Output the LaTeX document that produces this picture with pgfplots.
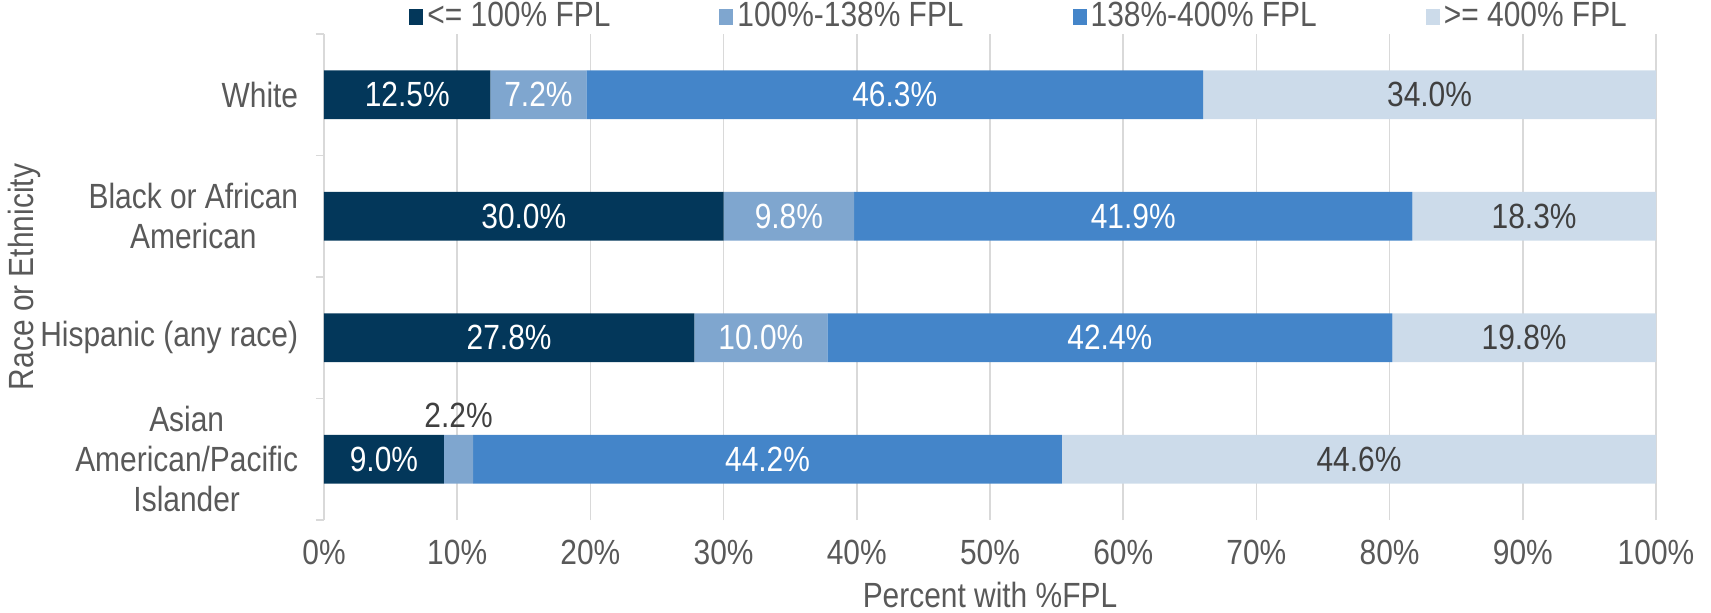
\documentclass[border=0pt]{standalone}
\usepackage{pgfplots}
\pgfplotsset{compat=1.18}
\usepackage{pgfplotstable}
\usepackage{fontspec}
\setmainfont{Liberation Sans}[FakeStretch=0.855]
\definecolor{cA}{HTML}{03375A}
\definecolor{cB}{HTML}{7FA6CF}
\definecolor{cC}{HTML}{4485C9}
\definecolor{cD}{HTML}{CCDBEA}
\definecolor{labgray}{HTML}{404040}
\definecolor{tickgray}{HTML}{595959}
\definecolor{gridgray}{HTML}{D9D9D9}

\pgfplotstableread{
y a b c d
3 12.5 7.2 46.3 34.0
2 30.0 9.8 41.9 18.3
1 27.8 10.0 42.4 19.8
0 9.0 2.2 44.2 44.6
}\data

\newcommand\lab[1]{\pgfmathprintnumber[fixed,fixed zerofill,precision=1]{#1}\%}
\newcommand\labB[1]{\pgfmathfloattofixed{#1}\let\fx\pgfmathresult
  \ifdim\fx pt<5pt \raisebox{32pt}[0pt][0pt]{\textcolor{labgray}{\lab{#1}}}\else\lab{#1}\fi}

\begin{document}
\fontsize{35}{40}\selectfont
\begin{tikzpicture}
\begin{axis}[
  xbar stacked,
  scale only axis,
  width=1332pt, height=486pt,
  xmin=0, xmax=100,
  ymin=-0.5, ymax=3.5,
  bar width=0.4,
  /pgf/number format/assume math mode=true,
  font=\fontsize{35}{40}\selectfont,
  xtick={0,10,...,100},
  xticklabel={\pgfmathprintnumber{\tick}\%},
  xticklabel style={text=tickgray, yshift=-8pt},
  ytick={0,1,2,3},
  yticklabels={{Asian\\American/Pacific\\Islander},{Hispanic (any race)},{Black or African\\American},White},
  yticklabel style={align=center, text=tickgray, xshift=-14pt},
  minor ytick={-0.5,0.5,1.5,2.5,3.5},
  major tick length=0pt,
  minor tick length=8pt,
  tick align=outside,
  xtick style={draw=none},
  minor tick style={gridgray, line width=1.5pt},
  axis y line*=left,
  axis x line*=bottom,
  x axis line style={draw=none},
  y axis line style={gridgray, line width=1.5pt},
  xmajorgrids,
  grid style={gridgray, line width=1.5pt},
  xlabel={Percent with \%FPL},
  ylabel={Race or Ethnicity},
  xlabel style={text=tickgray, yshift=6pt},
  ylabel style={text=tickgray, at={(axis description cs:-0.225,0.5)}, anchor=center, rotate=0},
  legend columns=4,
  legend style={at={(0.064,1)}, anchor=west, yshift=17pt, draw=none, fill=none, inner sep=0pt,
    text=tickgray, font=\fontsize{35}{40}\selectfont,
    /tikz/every even column/.append style={column sep=107pt},
    /tikz/every odd column/.append style={column sep=2pt}},
  legend image code/.code={\fill[#1] (0pt,-8pt) rectangle (14pt,8pt);},
  point meta=explicit,
  nodes near coords={\lab{\pgfplotspointmeta}},
  every node near coord/.append style={anchor=center},
]
\addplot+[fill=cA, draw=none,
  every node near coord/.append style={text=white}]
  table[x=a, y=y, meta=a] {\data};
\addlegendentry{<= 100\% FPL}
\addplot+[fill=cB, draw=none,
  nodes near coords={\labB{\pgfplotspointmeta}},
  every node near coord/.append style={text=white}]
  table[x=b, y=y, meta=b] {\data};
\addlegendentry{100\%-138\% FPL}
\addplot+[fill=cC, draw=none,
  every node near coord/.append style={text=white}]
  table[x=c, y=y, meta=c] {\data};
\addlegendentry{138\%-400\% FPL}
\addplot+[fill=cD, draw=none,
  every node near coord/.append style={text=labgray}]
  table[x=d, y=y, meta=d] {\data};
\addlegendentry{>= 400\% FPL}
\end{axis}
\pgfresetboundingbox
\path[use as bounding box] (-324pt,-93pt) rectangle (1387pt,520pt);
\end{tikzpicture}
\end{document}
